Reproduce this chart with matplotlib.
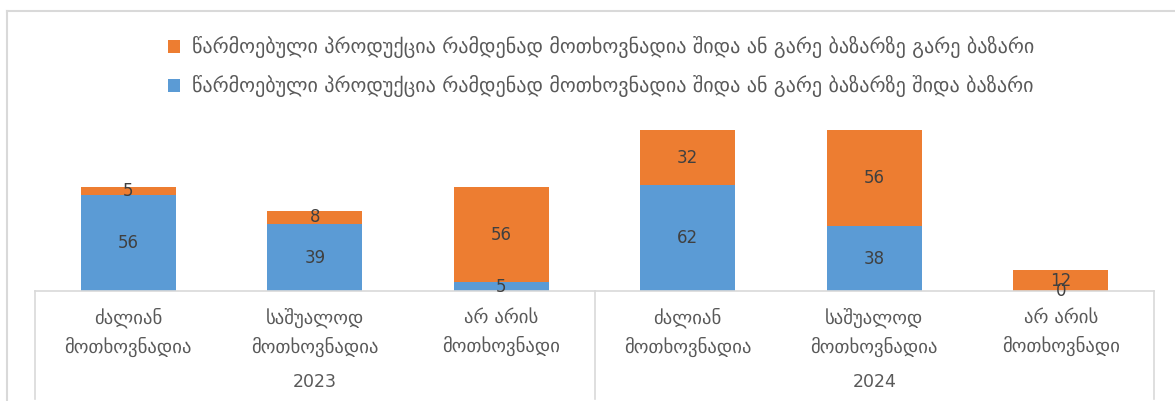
import matplotlib.pyplot as plt
import numpy as np

plt.rcParams['font.family'] = ['DejaVu Sans']

years = ['2023', '2024']
categories = ['ძალიან\nმოთხოვნადია', 'საშუალოდ\nმოთხოვნადია', 'არ არის\nმოთხოვნადი']
inner = [56, 39, 5, 62, 38, 0]    # შიდა ბაზარი
outer = [5, 8, 56, 32, 56, 12]    # გარე ბაზარი
legend_outer = 'წარმოებული პროდუქცია რამდენად მოთხოვნადია შიდა ან გარე ბაზარზე გარე ბაზარი'
legend_inner = 'წარმოებული პროდუქცია რამდენად მოთხოვნადია შიდა ან გარე ბაზარზე შიდა ბაზარი'

blue = '#5B9BD5'
orange = '#ED7D31'
grid = '#D9D9D9'
txt = '#595959'

W, H = 1175, 401
fig = plt.figure(figsize=(W / 100, H / 100), dpi=100)

# outer frame (top and left edges)
fig.add_artist(plt.Line2D([7 / W, 7 / W], [0, 1 - 11 / H], color=grid, lw=1.5))
fig.add_artist(plt.Line2D([7 / W, 1], [1 - 11 / H, 1 - 11 / H], color=grid, lw=1.5))

ax = fig.add_axes([35 / W, (H - 291) / H, 1119 / W, 171 / H])
x = np.arange(len(inner))
b1 = ax.bar(x, inner, width=0.51, color=blue)
b2 = ax.bar(x, outer, width=0.51, bottom=inner, color=orange)

for xi, v in zip(x, inner):
    ax.text(xi, v / 2, str(v), ha='center', va='center', fontsize=12, color='#404040')
for xi, b, v in zip(x, inner, outer):
    ax.text(xi, b + v / 2, str(v), ha='center', va='center', fontsize=12, color='#404040')

ax.set_xlim(-0.5, len(inner) - 0.5)
ax.set_ylim(0, 100)
ax.set_xticks([])
ax.set_yticks([])
for s in ['top', 'right', 'left']:
    ax.spines[s].set_visible(False)
ax.spines['bottom'].set_color(grid)
ax.spines['bottom'].set_linewidth(1.2)

# category and year labels under the axis
tr = ax.get_xaxis_transform()
for i in range(len(inner)):
    ax.text(i, -0.24, categories[i % 3], transform=tr, ha='center', va='center',
            fontsize=13.5, color=txt, linespacing=1.55)
for j, yr in enumerate(years):
    ax.text(3 * j + 1, -0.535, yr, transform=tr, ha='center', va='center',
            fontsize=12.5, color=txt)
for xs in [-0.5, 2.5, 5.5]:
    ax.plot([xs, xs], [0, -0.63], transform=tr, color=grid, lw=1.2, clip_on=False)

fig.legend([b2, b1], [legend_outer, legend_inner], loc='upper left',
           bbox_to_anchor=(150 / W, 1 - 18 / H), frameon=False, fontsize=14.5,
           labelspacing=0.85, handlelength=0.6, handleheight=0.6, handletextpad=0.6,
           labelcolor=txt)

fig.savefig('out.png', dpi=100)
